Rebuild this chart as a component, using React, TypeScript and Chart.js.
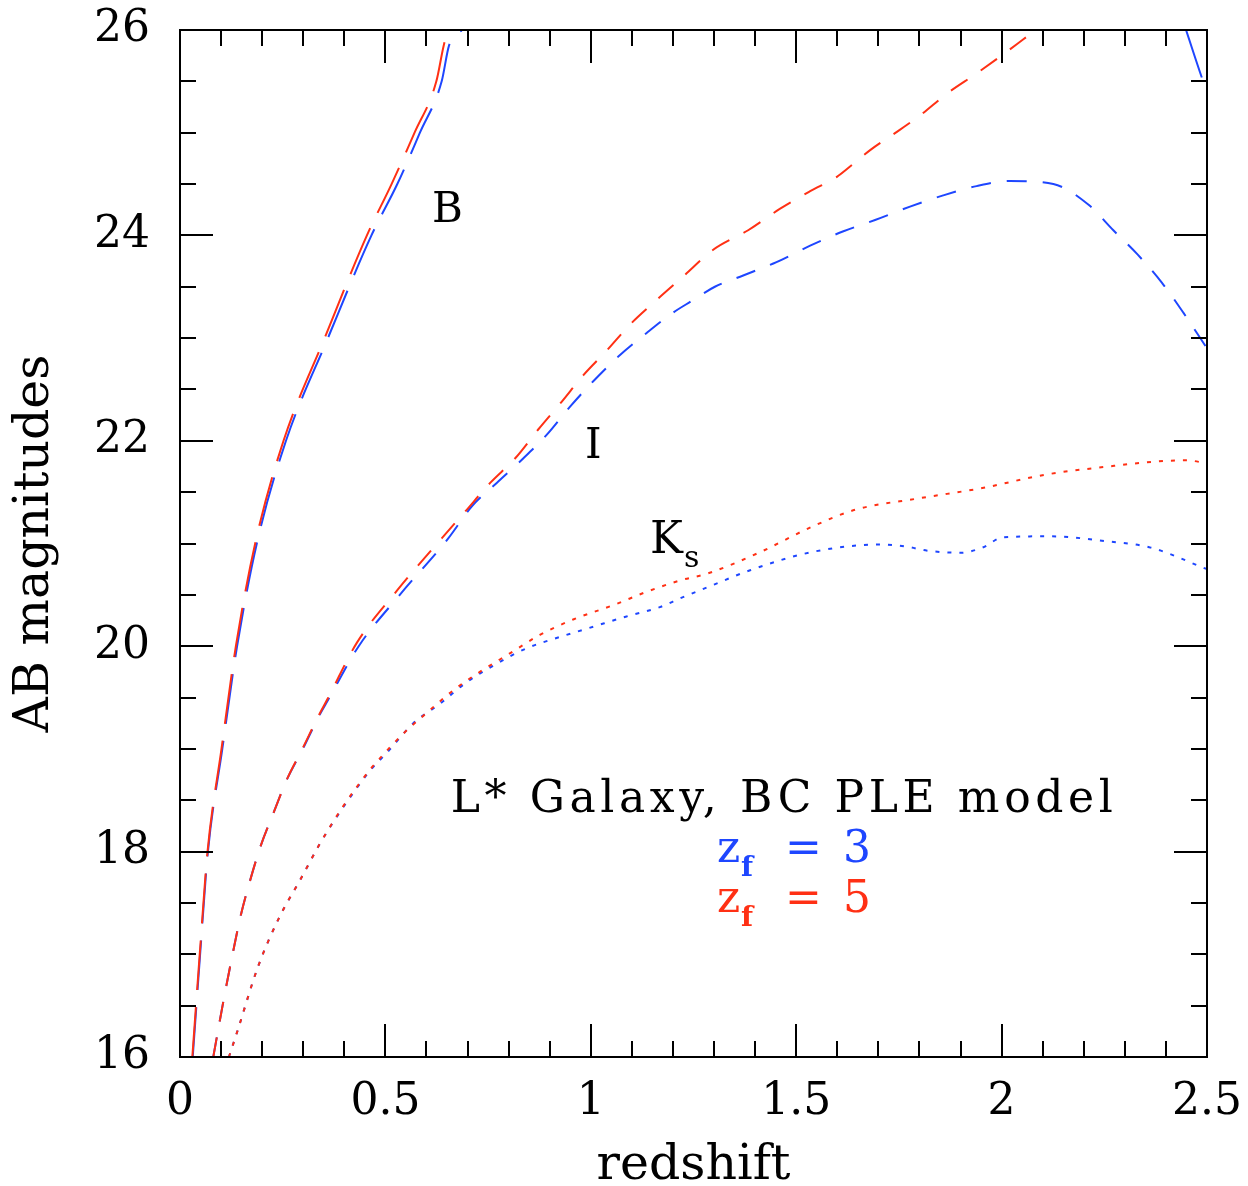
import React, { useEffect, useRef } from 'react';
import { Chart, registerables } from 'chart.js';

Chart.register(...registerables);

const BLUE = '#1e46ff';
const RED = '#ff3014';
const FONT = "'DejaVu Serif', serif";

// B band (long dashes)
const bBlueZ = [0.031, 0.049, 0.068, 0.103, 0.139, 0.187, 0.258, 0.36, 0.466, 0.529, 0.584, 0.637, 0.655, 0.686];
const bBlueMag = [16.0, 17.0, 18.0, 19.0, 20.0, 21.0, 22.0, 23.0, 24.0, 24.5, 25.0, 25.5, 25.85, 26.0];
const bBlueHighZ = [2.449, 2.488, 2.5];
const bBlueHighMag = [26.0, 25.53, 25.4];
const bRedZ = [0.03, 0.048, 0.067, 0.101, 0.136, 0.183, 0.252, 0.352, 0.455, 0.515, 0.571, 0.624, 0.642, 0.66];
const bRedMag = [16.0, 17.0, 18.0, 19.0, 20.0, 21.0, 22.0, 23.0, 24.0, 24.5, 25.0, 25.5, 25.85, 26.1];

// I band (medium dashes)
const iBlueZ = [0.081, 0.105, 0.13, 0.148, 0.17, 0.196, 0.227, 0.26, 0.299, 0.337, 0.361, 0.435, 0.535, 0.653, 0.71, 0.771, 0.836, 0.893, 0.949, 1.006, 1.067, 1.136, 1.201, 1.245, 1.302, 1.371, 1.452, 1.534, 1.615, 1.692, 1.777, 1.858, 1.939, 2.02, 2.126, 2.211, 2.272, 2.332, 2.39, 2.442, 2.5];
const iBlueMag = [16.0, 16.53, 17.04, 17.38, 17.71, 18.05, 18.37, 18.7, 19.0, 19.31, 19.48, 20.0, 20.5, 21.05, 21.36, 21.59, 21.83, 22.06, 22.33, 22.58, 22.82, 23.05, 23.25, 23.36, 23.5, 23.61, 23.74, 23.9, 24.04, 24.15, 24.28, 24.39, 24.48, 24.53, 24.5, 24.3, 24.05, 23.81, 23.54, 23.25, 22.9];
const iRedZ = [0.081, 0.105, 0.13, 0.148, 0.17, 0.196, 0.227, 0.26, 0.299, 0.337, 0.361, 0.43, 0.53, 0.637, 0.694, 0.755, 0.816, 0.872, 0.929, 0.982, 1.039, 1.095, 1.16, 1.225, 1.298, 1.383, 1.461, 1.534, 1.599, 1.631, 1.68, 1.753, 1.802, 1.87, 1.94, 2.013, 2.053, 2.1];
const iRedMag = [16.0, 16.53, 17.04, 17.38, 17.71, 18.05, 18.37, 18.7, 19.01, 19.32, 19.5, 20.03, 20.55, 21.05, 21.31, 21.59, 21.83, 22.11, 22.38, 22.64, 22.88, 23.13, 23.37, 23.6, 23.86, 24.05, 24.26, 24.43, 24.57, 24.67, 24.83, 25.03, 25.17, 25.39, 25.58, 25.79, 25.91, 26.05];

// Ks band (dotted)
const kBlueZ = [0.119, 0.138, 0.19, 0.243, 0.292, 0.341, 0.397, 0.463, 0.503, 0.568, 0.633, 0.698, 0.771, 0.844, 0.925, 1.006, 1.087, 1.168, 1.22, 1.3, 1.388, 1.542, 1.706, 1.768, 1.819, 1.901, 1.953, 2.004, 2.117, 2.26, 2.363, 2.5];
const kBlueMag = [16.0, 16.23, 16.88, 17.37, 17.72, 18.08, 18.43, 18.79, 18.96, 19.25, 19.44, 19.65, 19.83, 19.98, 20.09, 20.19, 20.29, 20.38, 20.47, 20.6, 20.74, 20.92, 20.99, 20.97, 20.93, 20.91, 20.96, 21.06, 21.07, 21.02, 20.96, 20.75];
const kRedZ = [0.119, 0.138, 0.19, 0.243, 0.292, 0.341, 0.397, 0.463, 0.487, 0.544, 0.609, 0.665, 0.73, 0.803, 0.876, 0.957, 1.055, 1.136, 1.217, 1.286, 1.409, 1.542, 1.645, 1.799, 1.953, 2.106, 2.26, 2.383, 2.45, 2.5];
const kRedMag = [16.0, 16.23, 16.88, 17.37, 17.72, 18.08, 18.44, 18.8, 18.91, 19.15, 19.38, 19.57, 19.75, 19.93, 20.11, 20.26, 20.4, 20.53, 20.64, 20.71, 20.91, 21.17, 21.33, 21.44, 21.54, 21.67, 21.75, 21.8, 21.81, 21.78];

const xTickValues = [0, 0.5, 1, 1.5, 2, 2.5];
const yTickValues = [16, 18, 20, 22, 24, 26];

const pts = (zs: number[], ms: number[]) => zs.map((z, i) => ({ x: z, y: ms[i] }));

const decor = {
  id: 'decor',
  afterDatasetsDraw(chart: any) {
    const { ctx, chartArea: a, scales } = chart;
    const x = scales.x;
    const y = scales.y;
    ctx.save();
    ctx.strokeStyle = '#000';
    ctx.lineWidth = 2;
    ctx.beginPath();
    for (let i = 0; i <= 25; i++) {
      const px = Math.round(x.getPixelForValue(i / 10));
      const len = i % 5 === 0 ? 33 : 16;
      ctx.moveTo(px, a.bottom); ctx.lineTo(px, a.bottom - len);
      ctx.moveTo(px, a.top); ctx.lineTo(px, a.top + len);
    }
    for (let i = 0; i <= 20; i++) {
      const py = Math.round(y.getPixelForValue(16 + i * 0.5));
      const len = i % 4 === 0 ? 33 : 16;
      ctx.moveTo(a.left, py); ctx.lineTo(a.left + len, py);
      ctx.moveTo(a.right, py); ctx.lineTo(a.right - len, py);
    }
    ctx.stroke();
    ctx.strokeRect(a.left, a.top, a.right - a.left, a.bottom - a.top);

    ctx.textBaseline = 'alphabetic';
    ctx.textAlign = 'left';
    ctx.fillStyle = '#000';
    ctx.font = `42px ${FONT}`;
    ctx.fillText('B', 432, 222);
    ctx.fillText('I', 585, 458);
    ctx.font = `44px ${FONT}`;
    ctx.fillText('K', 650, 553);
    ctx.font = `30px ${FONT}`;
    ctx.fillText('s', 684, 567);

    ctx.font = `44px ${FONT}`;
    (ctx as any).letterSpacing = '4.6px';
    ctx.textAlign = 'center';
    ctx.fillText('L* Galaxy, BC PLE model', 784, 812);
    (ctx as any).letterSpacing = '0px';
    ctx.textAlign = 'left';

    const zf = (color: string, val: string, base: number) => {
      ctx.fillStyle = color;
      ctx.font = `44px ${FONT}`;
      ctx.fillText('z', 717, base);
      ctx.fillText('=', 785, base);
      ctx.fillText(val, 843, base);
      ctx.font = `bold 28px ${FONT}`;
      ctx.fillText('f', 741, base + 14);
    };
    zf(BLUE, '3', 862);
    zf(RED, '5', 912);
    ctx.restore();
  },
};

export default function App() {
  const ref = useRef<HTMLCanvasElement>(null);
  useEffect(() => {
    if (!ref.current) return;
    const common = { showLine: true, pointRadius: 0, borderWidth: 2, cubicInterpolationMode: 'monotone', fill: false };
    const bBlue = [...pts(bBlueZ, bBlueMag), { x: 1.5, y: null as any }, ...pts(bBlueHighZ, bBlueHighMag)];
    const zeroPad = (s: any) => { s.paddingLeft = 0; s.paddingRight = 0; s.paddingTop = 0; s.paddingBottom = 0; };
    const chart = new Chart(ref.current, {
      type: 'scatter',
      data: {
        datasets: [
          { ...common, label: 'B zf=5', data: pts(bRedZ, bRedMag), borderColor: RED, borderDash: [50, 17] },
          { ...common, label: 'I zf=5', data: pts(iRedZ, iRedMag), borderColor: RED, borderDash: [20, 16] },
          { ...common, label: 'Ks zf=5', data: pts(kRedZ, kRedMag), borderColor: RED, borderDash: [4, 8] },
          { ...common, label: 'B zf=3', data: bBlue, borderColor: BLUE, borderDash: [50, 17], spanGaps: false },
          { ...common, label: 'I zf=3', data: pts(iBlueZ, iBlueMag), borderColor: BLUE, borderDash: [20, 16] },
          { ...common, label: 'Ks zf=3', data: pts(kBlueZ, kBlueMag), borderColor: BLUE, borderDash: [4, 8] },
        ] as any,
      },
      options: {
        animation: false,
        responsive: false,
        events: [],
        layout: { padding: { left: 0, top: 30, right: 41, bottom: 0 } },
        plugins: { legend: { display: false }, tooltip: { enabled: false } },
        scales: {
          x: {
            type: 'linear',
            min: 0,
            max: 2.5,
            afterFit: (s: any) => { s.height = 129; zeroPad(s); },
            afterBuildTicks: (s: any) => { s.ticks = xTickValues.map((v) => ({ value: v })); },
            grid: { display: false, drawTicks: false },
            border: { display: false },
            ticks: { font: { family: FONT, size: 44 }, color: '#000', padding: 19, maxRotation: 0, autoSkip: false, callback: (v: any) => String(Number(v)) },
            title: { display: true, text: 'redshift', font: { family: FONT, size: 49, lineHeight: 0.8 }, color: '#000', padding: { top: 0, bottom: 0 } },
          },
          y: {
            type: 'linear',
            min: 16,
            max: 26,
            afterFit: (s: any) => { s.width = 180; zeroPad(s); },
            afterBuildTicks: (s: any) => { s.ticks = yTickValues.map((v) => ({ value: v })); },
            grid: { display: false, drawTicks: false },
            border: { display: false },
            ticks: { font: { family: FONT, size: 44 }, color: '#000', padding: 30, autoSkip: false, callback: (v: any) => String(Number(v)) },
            title: { display: true, text: 'AB magnitudes', font: { family: FONT, size: 49 }, color: '#000', padding: { top: 6, bottom: 0 } },
          },
        },
      } as any,
      plugins: [decor],
    });
    return () => chart.destroy();
  }, []);
  return (
    <div style={{ position: 'absolute', left: 0, top: 0, width: 1248, height: 1186, background: '#fff' }}>
      <canvas ref={ref} width={1248} height={1186} style={{ display: 'block' }} />
    </div>
  );
}
